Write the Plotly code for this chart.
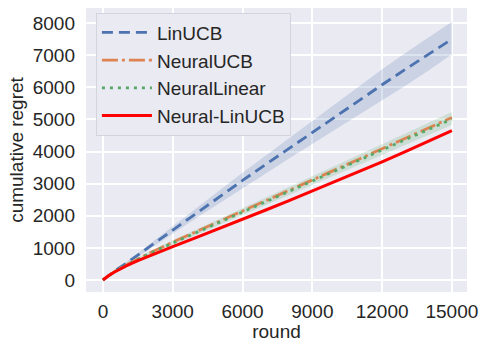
import plotly.graph_objects as go

rounds = [0, 250, 500, 1000, 1500, 2000, 3000, 4000, 5000, 6000, 7000, 8000, 9000, 10000, 11000, 12000, 13000, 14000, 15000]

linucb = [0, 150, 280, 520, 780, 1030, 1560, 2080, 2590, 3100, 3600, 4100, 4600, 5100, 5590, 6080, 6560, 7030, 7500]
linucb_lo = [0, 140, 260, 480, 720, 950, 1440, 1920, 2390, 2860, 3320, 3780, 4240, 4700, 5150, 5600, 6050, 6520, 7030]
linucb_hi = [0, 160, 300, 560, 840, 1110, 1680, 2240, 2790, 3340, 3880, 4420, 4960, 5500, 6030, 6560, 7070, 7550, 8040]

neuralucb = [0, 145, 265, 470, 660, 840, 1180, 1500, 1820, 2140, 2460, 2780, 3100, 3430, 3760, 4090, 4410, 4730, 5060]
neurallinear = [0, 143, 260, 460, 645, 820, 1150, 1470, 1790, 2110, 2430, 2750, 3070, 3390, 3710, 4030, 4350, 4680, 5010]
neural_lo = [0, 135, 245, 430, 605, 775, 1090, 1400, 1710, 2020, 2330, 2640, 2950, 3260, 3580, 3890, 4200, 4520, 4830]
neural_hi = [0, 155, 280, 500, 700, 885, 1240, 1570, 1900, 2230, 2560, 2890, 3220, 3560, 3890, 4230, 4560, 4900, 5230]

neural_linucb = [0, 140, 250, 440, 600, 750, 1040, 1320, 1600, 1890, 2180, 2470, 2770, 3070, 3370, 3680, 4000, 4320, 4650]

x_ticks = [0, 3000, 6000, 9000, 12000, 15000]
y_ticks = [0, 1000, 2000, 3000, 4000, 5000, 6000, 7000, 8000]

BLUE = "#4C72B0"
ORANGE = "#DD8452"
GREEN = "#55A868"
RED = "#FF0000"

fig = go.Figure()

def band(lo, hi, color):
    fig.add_trace(go.Scatter(
        x=rounds + rounds[::-1], y=hi + lo[::-1], fill="toself",
        fillcolor=color, line=dict(width=0), mode="lines",
        showlegend=False, hoverinfo="skip"))

band(linucb_lo, linucb_hi, "rgba(76,114,176,0.2)")
band(neural_lo, neural_hi, "rgba(85,168,104,0.2)")

fig.add_trace(go.Scatter(x=rounds, y=linucb, mode="lines", name="LinUCB", legendgroup="a",
                         line=dict(color=BLUE, width=2.8, dash="11px,6px")))
fig.add_trace(go.Scatter(x=rounds, y=neuralucb, mode="lines", name="NeuralUCB", legendgroup="b",
                         line=dict(color=ORANGE, width=2.8, dash="16px,4px,3px,4px")))
fig.add_trace(go.Scatter(x=rounds, y=neurallinear, mode="lines", name="NeuralLinear", legendgroup="c",
                         line=dict(color=GREEN, width=2.8, dash="3px,5px")))
fig.add_trace(go.Scatter(x=rounds, y=neural_linucb, mode="lines", name="Neural-LinUCB", legendgroup="d",
                         line=dict(color=RED, width=3)))

font = dict(family="Liberation Sans, Arial, sans-serif", size=19, color="#262626")

fig.update_layout(
    width=482, height=342,
    margin=dict(l=86, r=15, t=8, b=50),
    paper_bgcolor="white", plot_bgcolor="#EAEAF2",
    font=font,
    legend=dict(x=0.026, y=0.984, xanchor="left", yanchor="top",
                bgcolor="#EAEAF2", bordercolor="#D4D4DC", borderwidth=1,
                font=font, itemwidth=50, tracegroupgap=0, traceorder="grouped"),
)
fig.update_xaxes(range=[-730, 15650], tickvals=x_ticks, ticktext=[str(v) for v in x_ticks],
                 showgrid=True, gridcolor="white", gridwidth=1.5, zeroline=False,
                 ticks="", ticklabelstandoff=6, automargin=False,
                 title=dict(text="round", font=font, standoff=0))
fig.update_yaxes(range=[-374, 8470], tickvals=y_ticks, ticktext=[str(v) for v in y_ticks],
                 showgrid=True, gridcolor="white", gridwidth=1.5, zeroline=False,
                 ticks="", ticklabelstandoff=10, automargin=False,
                 title=dict(text="cumulative regret", font=font, standoff=4))

fig.write_html("out.html", config={"displayModeBar": False},
               post_script="document.body.style.margin='0';document.body.style.overflow='hidden';")
